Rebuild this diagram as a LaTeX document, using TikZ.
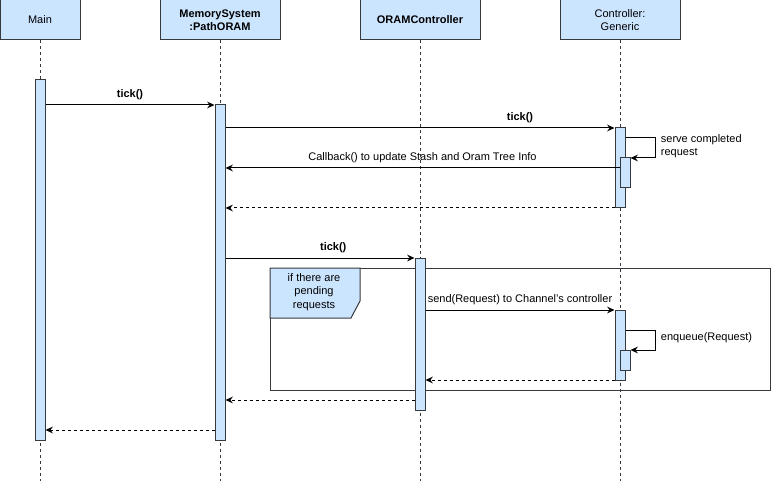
\documentclass[tikz,border=0pt]{standalone}
\usepackage{fontspec}
\setmainfont{Liberation Sans}
\usetikzlibrary{arrows.meta}
\definecolor{barblue}{HTML}{CCE5FF}
\definecolor{linegray}{HTML}{36393D}
\begin{document}
\begin{tikzpicture}[x=0.75pt, y=-0.75pt, line width=0.75pt,
	every node/.style={font=\fontsize{8.25}{10}\selectfont},
	head/.style={draw=linegray, fill=barblue, minimum width=90pt, minimum height=30pt, inner sep=0pt, align=center},
	act/.style={draw=linegray, fill=barblue, minimum width=7.5pt, inner sep=0pt},
	life/.style={draw=linegray, dash pattern=on 2.25pt off 2.25pt},
	msg/.style={-{Stealth[length=5.5pt, width=5pt]}},
	ret/.style={msg, dash pattern=on 2.25pt off 2.25pt}]
	
	\useasboundingbox (0, 0) rectangle (771, 481);
	
	% participants
	\node [head, minimum width=60pt] (main) at (40, 20) {Main};
	\node [head, font=\fontsize{8.25}{10}\selectfont\bfseries] (mem) at (220, 20) {MemorySystem\\:PathORAM};
	\node [head, font=\fontsize{8.25}{10}\selectfont\bfseries] (oram) at (420, 20) {ORAMController};
	\node [head] (gen) at (620, 20) {Controller:\\Generic};
	
	\draw [life] (main.south) -- (main.south |- 0, 481);
	\draw [life] (mem.south) -- (mem.south |- 0, 481);
	\draw [life] (oram.south) -- (oram.south |- 0, 481);
	\draw [life] (gen.south) -- (gen.south |- 0, 481);
	
	% loop frame
	\draw [linegray] (270, 268) rectangle (770, 390);
	\draw [linegray, fill=barblue] (270, 268) -- (360, 268) -- (360, 301) -- (351, 318) -- (270, 318) -- cycle;
	\node [align=center] (cond) at (314, 292) {if there are\\pending\\requests};
	
	% activations
	\node [act, minimum height=270pt] (mainA) at (40, 260) {};
	\node [act, minimum height=251.25pt] (memA) at (220, 272.5) {};
	\node [act, minimum height=60pt] (genA) at (620, 168) {};
	\node [act, minimum height=22.5pt] (genB) at (625, 173) {};
	\node [act, minimum height=114pt] (oramA) at (420, 334) {};
	\node [act, minimum height=52.5pt] (genC) at (620, 345) {};
	\node [act, minimum height=15pt] (genD) at (625, 360) {};
	
	% messages
	\draw [msg] (mainA.east |- 0, 105) -- node [above=0pt, font=\fontsize{8.25}{10}\selectfont\bfseries] {tick()} (memA.west |- 0, 105);
	\draw [msg] (memA.east |- 0, 128) -- node [pos=0.757, above=0pt, font=\fontsize{8.25}{10}\selectfont\bfseries] {tick()} (genA.west |- 0, 128);
	\draw [msg] (genA.east |- 0, 138) -- (655, 138) -- (655, 158) -- (genB.east |- 0, 158);
	\node [right, align=left] (serve) at (656, 146) {serve completed\\request};
	\draw [msg] (genB.west |- 0, 168) -- node [above=0pt] {Callback() to update Stash and Oram Tree Info} (memA.east |- 0, 168);
	\draw [ret] (genA.west |- 0, 208) -- (memA.east |- 0, 208);
	
	\draw [msg] (memA.east |- 0, 258) -- node [pos=0.57, above=0pt, font=\fontsize{8.25}{10}\selectfont\bfseries] {tick()} (oramA.west |- 0, 258);
	\draw [msg] (oramA.east |- 0, 310) -- node [above=0pt] {send(Request) to Channel's controller} (genC.west |- 0, 310);
	\draw [msg] (genC.east |- 0, 330) -- (655, 330) -- (655, 350) -- (genD.east |- 0, 350);
	\node [right] (enq) at (656, 338) {enqueue(Request)};
	\draw [ret] (genC.west |- 0, 380) -- (oramA.east |- 0, 380);
	\draw [ret] (oramA.west |- 0, 400) -- (memA.east |- 0, 400);
	\draw [ret] (memA.west |- 0, 430) -- (mainA.east |- 0, 430);
	
\end{tikzpicture}
\end{document}
